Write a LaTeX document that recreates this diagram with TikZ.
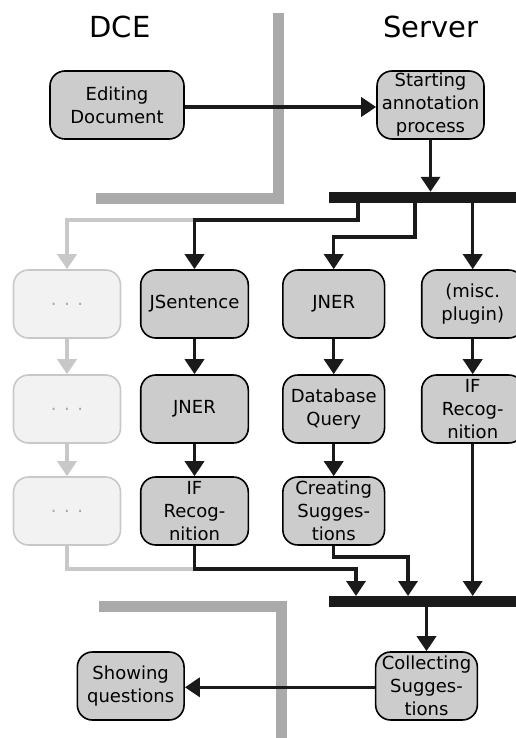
\documentclass[tikz,border=0pt]{standalone}
\usepackage{fontspec}
\setmainfont{DejaVu Sans}
\usetikzlibrary{arrows.meta}
\definecolor{boxgray}{HTML}{CCCCCC}
\definecolor{ghostfill}{HTML}{F2F2F2}
\definecolor{ghostline}{HTML}{C8C8C8}
\definecolor{ghostdots}{HTML}{A8A8A8}
\definecolor{wallgray}{HTML}{AAAAAA}
\definecolor{barblack}{HTML}{1A1A1A}

\begin{document}
\begin{tikzpicture}[x=1pt, y=-1pt,
  >={Triangle[length=15pt, width=19pt]},
  task/.style={draw=black, fill=boxgray, line width=1.6pt, rounded corners=15pt,
    minimum height=68pt, inner sep=0pt, align=center,
    font=\fontsize{18}{23}\selectfont},
  ghost/.style={task, draw=ghostline, fill=ghostfill, text=ghostdots},
  flow/.style={barblack, line width=3.5pt},
  gflow/.style={ghostline, line width=3.5pt},
  wall/.style={wallgray, line width=11pt},
  syncbar/.style={fill=barblack, inner sep=0pt, minimum width=200pt, minimum height=11pt},
  title/.style={font=\fontsize{29}{35}\selectfont}]

\useasboundingbox (0,0) rectangle (516,738);

% ============================================================
% Swimlane walls and headings
% ============================================================
\draw[wall] (96,198.5) -- (278,198.5) -- (278,13);
\draw[wall] (99,606) -- (281,606) -- (281,745);

\node[title, anchor=base] (dce) at (120,38) {DCE};
\node[title, anchor=base] (srv) at (431,38) {Server};

% ============================================================
% Start of the process
% ============================================================
\node[task, minimum width=134pt] (edit) at (117,105) {Editing\\Document};
\node[task, minimum width=107pt] (start) at (430.5,105) {Starting\\annotation\\process};

\draw[flow, ->] (edit.east |- 0,107) -- (start.west |- 0,107);

% Fork bar
\node[syncbar] (fork) at (429,197.5) {};
\draw[flow, ->] (start.south) -- (start.south |- fork.north);

% ============================================================
% Plugin columns (rows at y = 304, 409, 511)
% ============================================================
% ghost column
\foreach \i/\y in {1/304, 2/409, 3/511} {
  \node[ghost, minimum width=107pt] (g\i) at (67,\y) {. . .};
}
\draw[gflow, ->] (g1) -- (g2);
\draw[gflow, ->] (g2) -- (g3);

% column 2
\node[task, minimum width=107.6pt] (jsent) at (194.5,304) {JSentence};
\node[task, minimum width=107.6pt] (jner2) at (194.5,409) {JNER};
\node[task, minimum width=107.6pt] (ifrec2) at (194.5,511) {IF\\Recog-\\nition};
\draw[flow, ->] (jsent) -- (jner2);
\draw[flow, ->] (jner2) -- (ifrec2);

% column 3
\node[task, minimum width=101.7pt] (jner3) at (333.7,304) {JNER};
\node[task, minimum width=101.7pt] (dbq) at (333.7,409) {Database\\Query};
\node[task, minimum width=101.7pt] (creat) at (333.7,511) {Creating\\Sugges-\\tions};
\draw[flow, ->] (jner3) -- (dbq);
\draw[flow, ->] (dbq) -- (creat);

% column 4 (runs off the right edge)
\node[task, minimum width=102pt] (misc) at (472.7,304) {(misc.\\plugin)};
\node[task, minimum width=102pt] (ifrec4) at (472.7,409) {IF\\Recog-\\nition};
\draw[flow, ->] (misc) -- (ifrec4);

% Branches out of the fork
\draw[gflow, ->] (jsent.north |- 0,220) -| (g1.north);
\draw[flow, ->] (fork.south -| 358,0) |- (jsent.north |- 0,220) -- (jsent.north);
\draw[flow, ->] (fork.south -| 415,0) |- (jner3.north |- 0,237) -- (jner3.north);
\draw[flow, ->] (fork.south -| misc.north) -- (misc.north);

% ============================================================
% Join bar and collecting
% ============================================================
\node[syncbar] (join) at (429,601.7) {};

\draw[gflow] (g3.south) |- (ifrec2.south |- 0,569);
\draw[flow, ->] (ifrec2.south) |- (356,569) -- (join.north -| 356,0);
\draw[flow, ->] (creat.south) |- (408,557) -- (join.north -| 408,0);
\draw[flow, ->] (ifrec4.south) -- (ifrec4.south |- join.north);

\node[task, minimum width=101.7pt] (coll) at (426.5,686) {Collecting\\Sugges-\\tions};
\node[task, minimum width=106.7pt] (show) at (130.7,686) {Showing\\questions};

\draw[flow, ->] (join.south -| coll.north) -- (coll.north);
\draw[flow, ->] (coll.west |- 0,687.3) -- (show.east |- 0,687.3);

\end{tikzpicture}
\end{document}
